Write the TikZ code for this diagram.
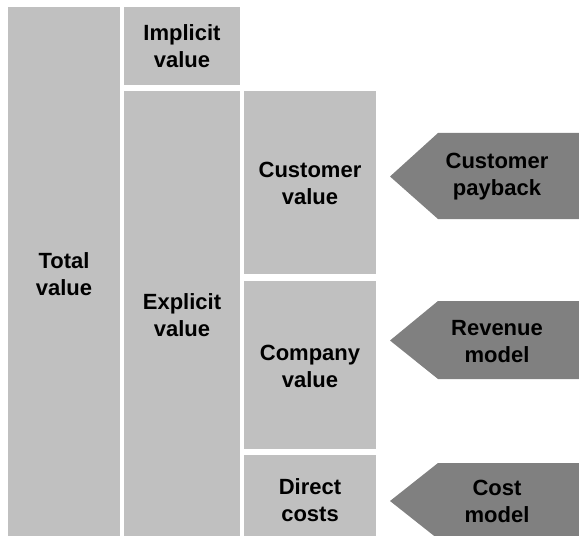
\documentclass[tikz,border=0pt]{standalone}
\usepackage{fontspec}
\setmainfont{Liberation Sans}
\usepackage{tikz}
\usetikzlibrary{positioning,calc}

\begin{document}
\begin{tikzpicture}[x=1bp, y=-1bp,
    box/.style={fill=boxgray},
    pointer/.style={fill=arrowgray},
    label/.style={align=center, inner sep=0pt, font=\bfseries\fontsize{22bp}{27bp}\selectfont}]
    \definecolor{boxgray}{HTML}{C0C0C0}
    \definecolor{arrowgray}{HTML}{808080}
    \clip (0, 0) rectangle (579, 536);

    % Total value
    \fill[box] (8, 7) rectangle (120, 536);
    \node[label] (total) at (64, 274) {Total\\value};

    % Implicit / Explicit
    \fill[box] (124, 7) rectangle (240, 85);
    \node[label] (implicit) at (182, 46.5) {Implicit\\value};
    \fill[box] (124, 91) rectangle (240, 536);
    \node[label] (explicit) at (182, 315) {Explicit\\value};

    % Customer / Company / Direct
    \fill[box] (244, 91) rectangle (376, 274);
    \node[label] (custvalue) at (310, 183.5) {Customer\\value};
    \fill[box] (244, 281) rectangle (376, 449);
    \node[label] (compvalue) at (310, 366.5) {Company\\value};
    \fill[box] (244, 455) rectangle (376, 536);
    \node[label] (direct) at (310, 500) {Direct\\costs};

    % Pointers
    \fill[pointer] (390, 176.5) -- (438, 133) -- (579, 133) -- (579, 219) -- (438, 219) -- cycle;
    \node[label] (payback) at (497, 176.5) {Customer\\payback};
    \fill[pointer] (390, 340.5) -- (438, 301) -- (579, 301) -- (579, 379) -- (438, 379) -- cycle;
    \node[label] (revenue) at (497, 341.5) {Revenue\\model};
    \fill[pointer] (390, 501) -- (438, 463) -- (579, 463) -- (579, 539) -- (438, 539) -- cycle;
    \node[label] (cost) at (497, 501.5) {Cost\\model};
\end{tikzpicture}
\end{document}
